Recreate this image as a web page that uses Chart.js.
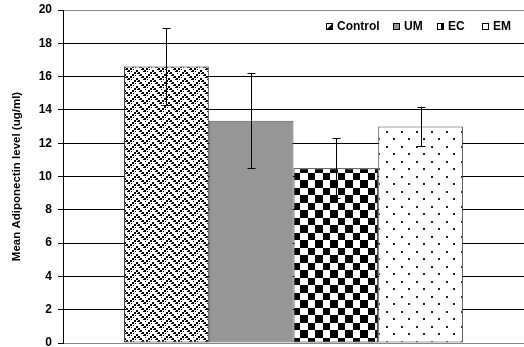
<!DOCTYPE html>
<html>
<head>
<meta charset="utf-8">
<script src="https://cdn.jsdelivr.net/npm/chart.js@4/dist/chart.umd.min.js"></script>
<style>
html,body{margin:0;padding:0;background:#fff;}
#wrap{width:524px;height:347px;position:relative;}
</style>
</head>
<body>
<div id="wrap"><canvas id="c" width="524" height="347"></canvas></div>
<script>
// ---- data ----
const groups = ['Control', 'UM', 'EC', 'EM'];
const means = [16.6, 13.35, 10.5, 13.0];
const errors = [2.3, 2.85, 1.8, 1.15];
const yTickValues = [0, 2, 4, 6, 8, 10, 12, 14, 16, 18, 20];
const yTitle = 'Mean Adiponectin level (ug/ml)';

// ---- patterns ----
function tile(w, h, draw) {
  const cv = document.createElement('canvas');
  cv.width = w; cv.height = h;
  const g = cv.getContext('2d');
  g.fillStyle = '#fff'; g.fillRect(0, 0, w, h);
  draw(g);
  return g;
}
const ctx0 = document.getElementById('c').getContext('2d');
function zigzagPattern() {
  const cv = tile(16, 8, g => {
    g.fillStyle = '#000';
    for (let x = 0; x < 16; x += 2) {
      const y = Math.abs(8 - x) - 2;
      const yy = ((y % 8) + 8) % 8;
      g.fillRect(x, yy, 2, 2);
      g.fillRect(x + 1, (yy + 3) % 8, 1, 1);
    }
  }).canvas;
  return ctx0.createPattern(cv, 'repeat');
}
function checkerPattern() {
  const cv = tile(15, 15, g => {
    g.fillStyle = '#000';
    g.fillRect(0, 0, 8, 8);
    g.fillRect(8, 8, 7, 7);
  }).canvas;
  return ctx0.createPattern(cv, 'repeat');
}
function dotPattern() {
  const cv = tile(15, 15, g => {
    g.fillStyle = '#222';
    g.fillRect(3, 3, 2, 2);
    g.fillRect(11, 11, 2, 2);
  }).canvas;
  return ctx0.createPattern(cv, 'repeat');
}
const fills = [zigzagPattern(), '#969696', checkerPattern(), dotPattern()];
const borders = ['#222', '#555', '#000', '#444'];

// ---- error bars plugin ----
const errorBars = {
  id: 'errorBars',
  afterDatasetsDraw(chart) {
    const c = chart.ctx, ys = chart.scales.y;
    c.save();
    c.strokeStyle = '#000'; c.lineWidth = 1;
    chart.data.datasets.forEach((ds, i) => {
      const bar = chart.getDatasetMeta(i).data[0];
      const x = Math.round(bar.x) + 0.5;
      const yHi = Math.round(ys.getPixelForValue(means[i] + errors[i])) + 0.5;
      const yLo = Math.round(ys.getPixelForValue(means[i] - errors[i])) + 0.5;
      c.beginPath();
      c.moveTo(x, yHi); c.lineTo(x, yLo);
      c.moveTo(x - 4, yHi); c.lineTo(x + 4, yHi);
      c.moveTo(x - 4, yLo); c.lineTo(x + 4, yLo);
      c.stroke();
    });
    c.restore();
  }
};

// ---- legend plugin ----
const legendBoxes = {
  id: 'legendBoxes',
  afterDraw(chart) {
    const c = chart.ctx;
    const xs = [326, 393, 437, 482];
    const yc = 27;
    c.save();
    c.font = 'bold 12px "Liberation Sans", Arial, sans-serif';
    c.textBaseline = 'middle';
    chart.data.datasets.forEach((ds, i) => {
      const bx = xs[i], by = yc - 4;
      c.fillStyle = '#fff';
      c.fillRect(bx, by, 7, 7);
      if (i === 0) {
        c.fillStyle = '#000';
        c.beginPath(); c.moveTo(bx + 7, by); c.lineTo(bx + 7, by + 7); c.lineTo(bx, by + 7); c.closePath(); c.fill();
      } else if (i === 1) {
        c.fillStyle = '#969696'; c.fillRect(bx, by, 7, 7);
      } else if (i === 2) {
        c.fillStyle = '#000'; c.fillRect(bx + 4, by, 3, 7);
      }
      c.strokeStyle = '#000'; c.lineWidth = 1;
      c.strokeRect(bx + 0.5, by + 0.5, 6, 6);
      c.fillStyle = '#000';
      c.fillText(ds.label, bx + 11, yc);
    });
    c.restore();
  }
};

const datasets = groups.map((g, i) => ({
  label: g,
  data: [means[i]],
  backgroundColor: fills[i],
  borderColor: borders[i],
  borderWidth: 1,
  borderSkipped: false,
  barPercentage: 1.0,
  categoryPercentage: 0.735
}));

new Chart(document.getElementById('c'), {
  type: 'bar',
  data: { labels: [''], datasets },
  options: {
    responsive: false,
    animation: false,
    layout: { padding: { top: 10, right: -3, bottom: 4, left: 0 } },
    plugins: { legend: { display: false }, tooltip: { enabled: false } },
    scales: {
      x: { display: false },
      y: {
        min: 0, max: 20,
        afterBuildTicks(s) { s.ticks = yTickValues.map(v => ({ value: v })); },
        afterFit(s) { s.width = 63; s.paddingTop = 0; s.paddingBottom = 0; },
        border: { display: true, color: '#000', width: 1 },
        grid: {
          color: c => (c.tick && (c.tick.value === 0 || c.tick.value === 20)) ? '#888' : '#000',
          tickColor: '#000',
          tickLength: 5,
          lineWidth: 1
        },
        ticks: {
          color: '#000',
          padding: 6,
          font: { family: '"Liberation Sans", Arial, sans-serif', size: 12, weight: 'bold' }
        },
        title: {
          display: true,
          text: yTitle,
          color: '#000',
          padding: { top: 10, bottom: 0 },
          font: { family: '"Liberation Sans", Arial, sans-serif', size: 11.5, weight: 'bold' }
        }
      }
    }
  },
  plugins: [errorBars, legendBoxes]
});
</script>
</body>
</html>
